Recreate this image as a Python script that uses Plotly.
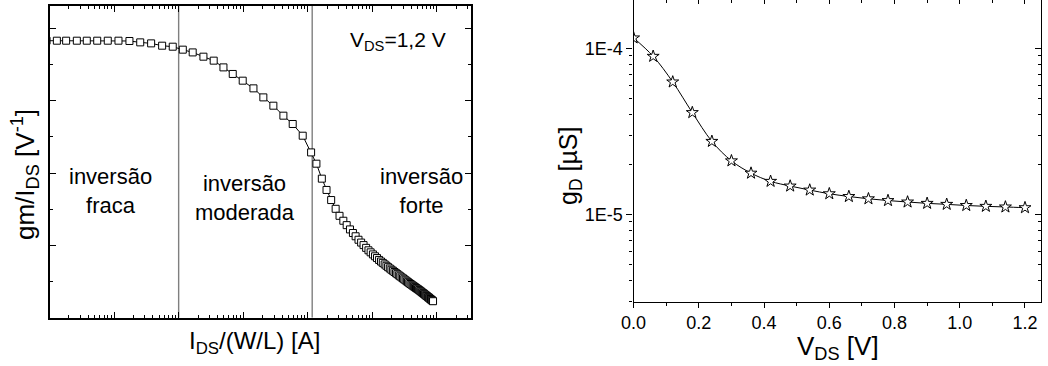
import plotly.graph_objects as go

# ---------------- data: left panel (gm/IDS vs IDS/(W/L)) ----------------
ids_wl = [
    9.0e-12, 1.30e-11, 1.81e-11, 2.65e-11, 3.78e-11, 5.48e-11, 7.99e-11, 1.17e-10,
    1.73e-10, 2.54e-10, 3.75e-10, 5.55e-10, 8.10e-10, 1.16e-9, 1.65e-9, 2.42e-9,
    3.49e-9, 4.94e-9, 6.88e-9, 9.82e-9, 1.44e-8, 2.05e-8, 2.93e-8, 4.19e-8,
    5.84e-8, 8.34e-8, 1.125e-7,
    1.36e-7, 1.65e-7, 1.95e-7, 2.3e-7, 2.7e-7, 3.1e-7, 3.55e-7, 4.0e-7, 4.5e-7,
    5.0e-7, 5.5e-7, 6.1e-7, 6.7e-7, 7.3e-7, 8.0e-7, 8.7e-7, 9.4e-7, 1.02e-6,
    1.1e-6, 1.18e-6, 1.27e-6, 1.36e-6, 1.45e-6, 1.55e-6, 1.65e-6, 1.75e-6,
    1.86e-6, 1.97e-6, 2.08e-6, 2.2e-6, 2.32e-6, 2.44e-6, 2.57e-6, 2.7e-6,
    2.84e-6, 2.98e-6, 3.12e-6, 3.27e-6, 3.42e-6, 3.57e-6, 3.73e-6, 3.89e-6,
    4.05e-6, 4.22e-6, 4.39e-6, 4.56e-6, 4.74e-6, 4.92e-6, 5.1e-6, 5.3e-6,
    5.5e-6, 5.7e-6, 5.9e-6, 6.1e-6, 6.3e-6, 6.5e-6, 6.7e-6, 6.9e-6, 7.1e-6,
    7.3e-6, 7.5e-6, 7.7e-6, 7.9e-6, 8.1e-6, 8.3e-6, 8.5e-6, 8.7e-6,
]
gm_ids = [
    38.31, 38.31, 38.31, 38.31, 38.31, 38.31, 38.31, 38.31,
    38.27, 38.08, 37.94, 37.62, 37.48, 37.07, 36.69, 36.10,
    35.55, 34.62, 33.71, 32.78, 31.72, 30.47, 29.32, 27.94,
    26.79, 25.17, 22.86,
    21.30, 19.23, 17.67, 16.27, 15.06, 14.09, 13.41, 12.80, 12.21,
    11.71, 11.26, 10.78, 10.39, 10.04, 9.66, 9.32, 9.04, 8.75,
    8.49, 8.25, 7.99, 7.77, 7.58, 7.37, 7.18, 6.99,
    6.81, 6.64, 6.49, 6.32, 6.16, 6.02, 5.86, 5.72,
    5.57, 5.44, 5.30, 5.17, 5.03, 4.91, 4.78, 4.66,
    4.56, 4.44, 4.33, 4.23, 4.12, 4.02, 3.93, 3.82,
    3.71, 3.60, 3.49, 3.40, 3.30, 3.20, 3.10, 3.02, 2.93,
    2.84, 2.76, 2.67, 2.59, 2.51, 2.43, 2.36, 2.28,
]
region_bounds = [1.0e-9, 1.17e-7]

# ---------------- data: right panel (gD vs VDS) ----------------
vds = [0.00, 0.06, 0.12, 0.18, 0.24, 0.30, 0.36, 0.42, 0.48, 0.54, 0.60,
       0.66, 0.72, 0.78, 0.84, 0.90, 0.96, 1.02, 1.08, 1.14, 1.20]
gd = [1.155e-4, 8.95e-5, 6.27e-5, 4.10e-5, 2.75e-5, 2.10e-5, 1.77e-5, 1.58e-5,
      1.48e-5, 1.40e-5, 1.33e-5, 1.28e-5, 1.24e-5, 1.21e-5, 1.186e-5, 1.164e-5,
      1.148e-5, 1.13e-5, 1.117e-5, 1.107e-5, 1.096e-5]
gd_major = [1e-5, 1e-4]
gd_major_text = ["1E-5", "1E-4"]
gd_minor = [3e-6, 4e-6, 5e-6, 6e-6, 7e-6, 8e-6, 9e-6,
            2e-5, 3e-5, 4e-5, 5e-5, 6e-5, 7e-5, 8e-5, 9e-5]

FONT = "Liberation Sans, Arial, sans-serif"
W, H = 1048, 366


def fx(p):
    return p / W


def fy(p):
    return 1 - p / H


LEFT_YMAX = 43.15

fig = go.Figure()

for b in region_bounds:
    fig.add_trace(go.Scatter(
        x=[b, b], y=[0, LEFT_YMAX], mode="lines",
        line=dict(color="#7f7f7f", width=1.4),
        xaxis="x", yaxis="y", hoverinfo="skip", showlegend=False))

fig.add_trace(go.Scatter(
    x=ids_wl, y=gm_ids, mode="lines+markers",
    line=dict(color="black", width=1),
    marker=dict(symbol="square", size=7, color="white",
                line=dict(color="black", width=1)),
    xaxis="x", yaxis="y", showlegend=False))

fig.add_trace(go.Scatter(
    x=vds, y=gd, mode="lines+markers",
    line=dict(color="black", width=1, shape="spline"),
    marker=dict(symbol="star", size=9, color="white",
                line=dict(color="black", width=1)),
    xaxis="x2", yaxis="y2", showlegend=False))

# helper traces so that the mirrored (inside) tick axes of the right panel exist
fig.add_trace(go.Scatter(x=[None], y=[None], xaxis="x3", yaxis="y2",
                         showlegend=False, hoverinfo="skip"))
fig.add_trace(go.Scatter(x=[None], y=[None], xaxis="x2", yaxis="y3",
                         showlegend=False, hoverinfo="skip"))

common = dict(showgrid=False, zeroline=False, tickcolor="black", automargin=False,
              linecolor="black", tickfont=dict(family=FONT, size=18, color="black"))

fig.update_layout(
    template="none",
    width=W, height=H,
    margin=dict(l=0, r=0, t=0, b=0, pad=0, autoexpand=False),
    paper_bgcolor="white", plot_bgcolor="white",
    font=dict(family=FONT, color="black"),
    xaxis=dict(
        type="log", range=[-11, -4.468],
        domain=[fx(49.5), fx(471.3)], anchor="y",
        showline=True, linewidth=2, mirror="ticks",
        ticks="inside", ticklen=6, tickwidth=1, dtick=1,
        showticklabels=False,
        minor=dict(dtick="D1", ticks="inside", ticklen=3, tickcolor="black",
                   showgrid=False),
        **common),
    yaxis=dict(
        range=[0, LEFT_YMAX],
        domain=[fy(317.7), fy(5.7)], anchor="x",
        showline=True, linewidth=2, mirror="ticks",
        ticks="inside", ticklen=6, tickwidth=1, tick0=0, dtick=10,
        showticklabels=False,
        minor=dict(dtick=5, ticks="inside", ticklen=3, tickcolor="black",
                   showgrid=False),
        **common),
    xaxis2=dict(
        range=[0, 1.25],
        domain=[fx(633.6), fx(1041.3)], anchor="y2",
        showline=True, linewidth=1.3, mirror=True,
        ticks="outside", ticklen=5, tickwidth=1, tick0=0, dtick=0.2,
        tickformat=".1f",
        minor=dict(dtick=0.1, ticks="outside", ticklen=3, tickcolor="black",
                   showgrid=False),
        **common),
    yaxis2=dict(
        type="log", range=[-5.5265, -3.709],
        domain=[fy(301.7), 1.0], anchor="x2",
        showline=True, linewidth=1.3, mirror=True,
        ticks="outside", ticklen=6, tickwidth=1,
        tickmode="array", tickvals=gd_major, ticktext=gd_major_text,
        minor=dict(tickmode="array", tickvals=gd_minor, ticks="outside",
                   ticklen=3, tickcolor="black", showgrid=False),
        **common),
    xaxis3=dict(
        range=[0, 1.25], overlaying="x2", side="top", anchor="y2",
        showline=False, ticks="inside", ticklen=4, tickwidth=1,
        tick0=0, dtick=0.2, showticklabels=False,
        minor=dict(dtick=0.1, ticks="inside", ticklen=3, tickcolor="black",
                   showgrid=False),
        **common),
    yaxis3=dict(
        type="log", range=[-5.5265, -3.709], overlaying="y2", side="right",
        anchor="x2", showline=False, ticks="inside", ticklen=6, tickwidth=1,
        tickmode="array", tickvals=gd_major, showticklabels=False,
        minor=dict(tickmode="array", tickvals=gd_minor, ticks="inside",
                   ticklen=3, tickcolor="black", showgrid=False),
        **common),
)

ann = [
    # axis titles
    dict(text="gm/I<sub>DS</sub> [V<sup>-1</sup>]", x=fx(25), y=fy(175),
         textangle=-90, size=26),
    dict(text="I<sub>DS</sub>/(W/L) [A]", x=fx(254), y=fy(342), size=24),
    dict(text="V<sub>DS</sub> [V]", x=fx(838), y=fy(347), size=26),
    dict(text="g<sub>D</sub> [µS]", x=fx(570), y=fy(166), textangle=-90, size=25),
    # in-plot labels
    dict(text="V<sub>DS</sub>=1,2 V", x=fx(398), y=fy(41), size=21),
    dict(text="inversão<br>fraca", x=fx(110), y=fy(191), size=22),
    dict(text="inversão<br>moderada", x=fx(245), y=fy(198), size=22),
    dict(text="inversão<br>forte", x=fx(421), y=fy(191), size=22),
]
for a in ann:
    fig.add_annotation(
        text=a["text"], x=a["x"], y=a["y"], xref="paper", yref="paper",
        xanchor="center", yanchor="middle", showarrow=False,
        textangle=a.get("textangle", 0),
        font=dict(family=FONT, size=a["size"], color="black"))

fig.write_html("out.html")
